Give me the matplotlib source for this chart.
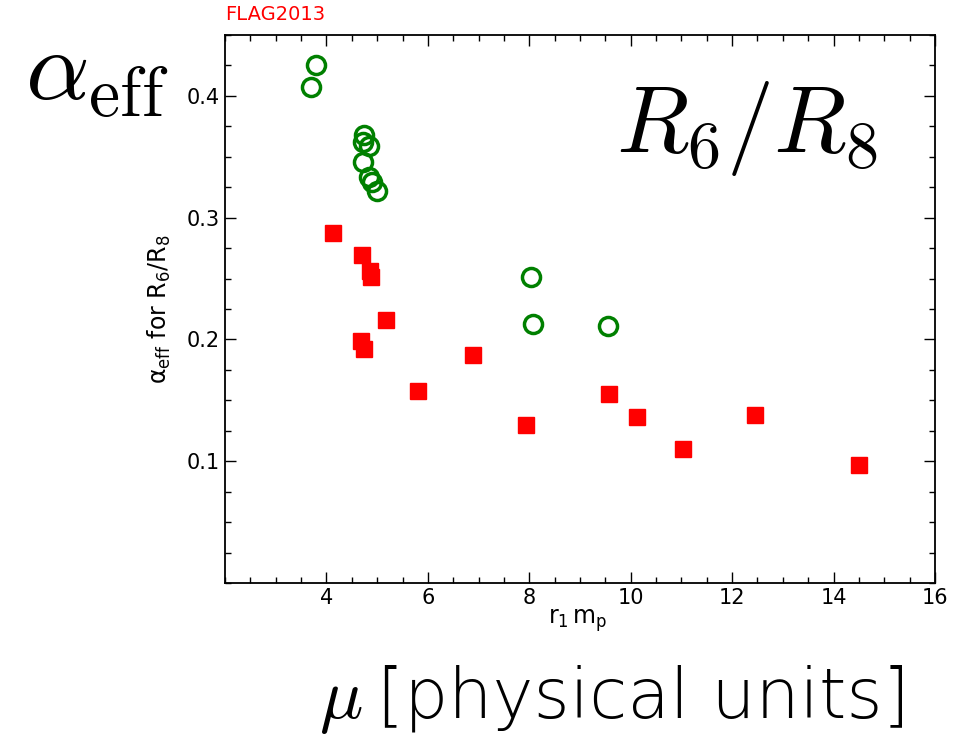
import matplotlib.pyplot as plt
from matplotlib.ticker import MultipleLocator

plt.rcParams['mathtext.fontset'] = 'cm'

# green open circles
green_x = [3.80, 3.70, 4.75, 4.72, 4.83, 4.73, 4.83, 4.89, 4.99, 8.03, 8.07, 9.55]
green_y = [0.425, 0.407, 0.368, 0.362, 0.359, 0.346, 0.333, 0.329, 0.322, 0.251, 0.213, 0.211]

# red filled squares
red_x = [4.12, 4.71, 4.85, 4.87, 5.17, 4.69, 4.75, 6.89, 5.80, 7.93, 9.57, 10.13, 11.04, 12.46, 14.51]
red_y = [0.287, 0.269, 0.256, 0.251, 0.216, 0.199, 0.192, 0.187, 0.158, 0.130, 0.155, 0.136, 0.110, 0.138, 0.097]

fig = plt.figure(figsize=(9.56, 7.4), dpi=100)
ax = fig.add_axes([0.2354, 0.2122, 0.7426, 0.7405])

ax.plot(green_x, green_y, 'o', mfc='none', mec='green', mew=2.5, ms=13)
ax.plot(red_x, red_y, 's', color='red', ms=12)

ax.set_xlim(2, 16)
ax.set_ylim(0.0, 0.45)
ax.xaxis.set_minor_locator(MultipleLocator(0.5))
ax.yaxis.set_minor_locator(MultipleLocator(0.025))
ax.set_xticks([4, 6, 8, 10, 12, 14, 16])
ax.set_yticks([0.1, 0.2, 0.3, 0.4])
ax.tick_params(which='both', direction='in', top=True, right=True, labelsize=15)
ax.tick_params(which='major', length=8, width=1)
ax.tick_params(which='minor', length=4, width=1)
for s in ax.spines.values():
    s.set_linewidth(1.3)

ax.set_ylabel(r'$\mathregular{\alpha_{eff}}$ for $\mathregular{R_6/R_8}$',
              fontsize=17, labelpad=10, family='DejaVu Sans')
ax.text(0.497, -0.045, r'$\mathregular{r_1\,m_p}$', transform=ax.transAxes,
        fontsize=17, ha='center', va='top')

fig.text(0.2354, 0.967, 'FLAG2013', color='red', fontsize=14, ha='left', va='bottom')

# overlaid presentation labels
fig.text(0.026, 0.865, r'$\alpha_{\rm eff}$', fontsize=72, ha='left', va='baseline')
fig.text(0.644, 0.795, r'$R_6/R_8$', fontsize=68, ha='left', va='baseline')
fig.text(0.334, 0.03, r'$\mu$', fontsize=52, ha='left', va='baseline')
fig.text(0.394, 0.03, '[physical units]', fontsize=50, ha='left', va='baseline',
         family='DejaVu Sans', weight=200)

fig.savefig('out.png', dpi=100)
